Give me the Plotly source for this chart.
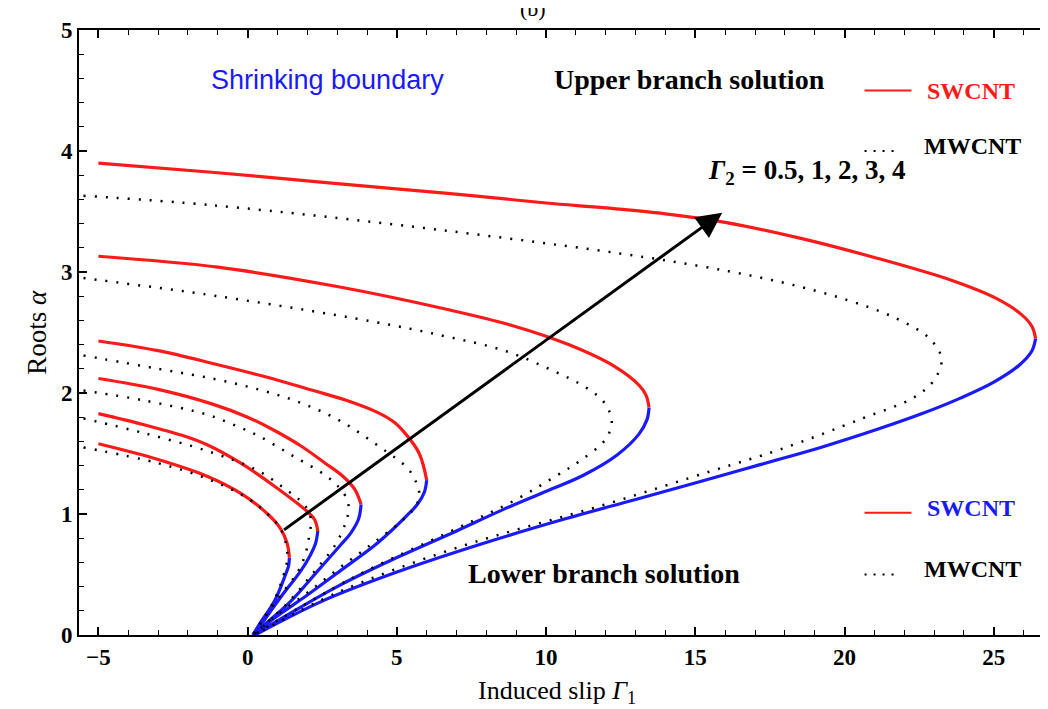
import plotly.graph_objects as go

# ---------------- data ----------------
GAMMA2_TEXT = "0.5, 1, 2, 3, 4"

# SWCNT upper branch (red): Gamma1 values and roots alpha, one list per curve
SW_UP_X = [
    [-5, -3, -1.34, -0.23, 0.67, 1.1, 1.32, 1.4],
    [-5, -3.5, -2.2, -1.34, -0.23, 0.9, 2.0, 2.25, 2.35],
    [-5, -3, -1.2, 0.0, 0.9, 1.8, 2.6, 3.2, 3.6, 3.8],
    [-5, -3, -1.1, 0.5, 2.2, 3.3, 4.35, 4.9, 5.3, 5.75, 6.0],
    [-5, -1, 3, 6.7, 8.83, 10.75, 12.29, 13.13, 13.35, 13.45],
    [-5, -1, 3, 6.7, 10, 12, 14, 16, 18.5, 21.0, 23.6, 25.1, 25.92, 26.28, 26.4],
]
SW_UP_Y = [
    [1.58, 1.45, 1.31, 1.17, 1.00, 0.88, 0.76, 0.64],
    [1.83, 1.74, 1.65, 1.57, 1.42, 1.23, 1.02, 0.95, 0.86],
    [2.12, 2.03, 1.91, 1.80, 1.69, 1.56, 1.42, 1.31, 1.20, 1.08],
    [2.43, 2.35, 2.24, 2.14, 2.02, 1.94, 1.84, 1.76, 1.66, 1.50, 1.28],
    [3.13, 3.04, 2.88, 2.69, 2.56, 2.40, 2.22, 2.06, 1.98, 1.88],
    [3.90, 3.82, 3.73, 3.65, 3.57, 3.53, 3.48, 3.41, 3.28, 3.12, 2.93, 2.78, 2.65, 2.55, 2.45],
]
# SWCNT lower branch (blue)
SW_LO_X = [
    [1.4, 1.37, 1.27, 0.9, 0.45, 0.17],
    [2.35, 2.28, 2.1, 1.78, 1.1, 0.55, 0.2],
    [3.8, 3.72, 3.45, 3.1, 2.35, 1.45, 0.55, 0.2],
    [6.0, 5.92, 5.69, 5.35, 4.85, 4.25, 3.1, 2.0, 0.9, 0.2],
    [13.45, 13.38, 13.11, 12.39, 11.25, 10.03, 8.5, 7.0, 5.0, 3.0, 0.2],
    [26.4, 26.28, 25.85, 25.0, 23.9, 22.6, 21.1, 19.2, 17.2, 15.2, 13.0, 10.5, 7.8, 5.0, 2.5, 0.25],
]
SW_LO_Y = [
    [0.64, 0.57, 0.50, 0.28, 0.11, 0.0],
    [0.86, 0.76, 0.66, 0.53, 0.31, 0.12, 0.0],
    [1.08, 0.96, 0.84, 0.74, 0.53, 0.28, 0.08, 0.0],
    [1.28, 1.18, 1.08, 0.99, 0.87, 0.74, 0.53, 0.33, 0.14, 0.0],
    [1.88, 1.78, 1.66, 1.49, 1.32, 1.19, 1.03, 0.86, 0.64, 0.40, 0.0],
    [2.45, 2.35, 2.23, 2.09, 1.96, 1.83, 1.70, 1.55, 1.41, 1.27, 1.12, 0.95, 0.75, 0.52, 0.28, 0.0],
]
# MWCNT (black dotted), whole curve upper -> lower
MW_X = [
    [-5.5, -3, -1.34, 0.0, 0.67, 1.1, 1.28, 1.33, 1.3, 1.2, 0.88, 0.45, 0.17],
    [-5.5, -3.5, -1.34, 0.33, 1.24, 1.85, 2.08, 2.12, 2.05, 1.95, 1.7, 1.05, 0.5, 0.2],
    [-5.5, -3.5, -1.34, -0.5, 0.33, 1.45, 2.6, 3.1, 3.35, 3.38, 3.3, 2.95, 2.25, 1.4, 0.55, 0.2],
    [-5.5, -3, -1.0, 0.5, 1.77, 3.1, 4.45, 5.35, 5.65, 5.75, 5.62, 5.2, 4.15, 3.0, 1.95, 0.9, 0.2],
    [-5.5, -1.0, 4.2, 6.6, 8.6, 10.27, 11.37, 11.95, 12.2, 12.0, 11.14, 10.37, 9.0, 7.0, 3.5, 0.2],
    [-5.5, -1.1, 6.7, 14.15, 17.8, 20.07, 21.7, 22.85, 23.25, 22.98, 22.3, 20.6, 17.8, 15.6, 12.0, 7.0, 3.0, 0.25],
]
MW_Y = [
    [1.55, 1.42, 1.29, 1.13, 1.00, 0.88, 0.76, 0.66, 0.58, 0.49, 0.28, 0.11, 0.0],
    [1.79, 1.67, 1.52, 1.36, 1.21, 1.09, 1.00, 0.92, 0.80, 0.68, 0.53, 0.31, 0.12, 0.0],
    [2.02, 1.94, 1.82, 1.74, 1.65, 1.49, 1.32, 1.21, 1.11, 1.03, 0.94, 0.75, 0.53, 0.28, 0.08, 0.0],
    [2.31, 2.20, 2.11, 2.02, 1.92, 1.77, 1.55, 1.38, 1.26, 1.16, 1.06, 0.95, 0.75, 0.54, 0.34, 0.15, 0.0],
    [2.95, 2.80, 2.59, 2.47, 2.35, 2.18, 2.04, 1.92, 1.77, 1.62, 1.44, 1.32, 1.12, 0.88, 0.47, 0.0],
    [3.63, 3.55, 3.34, 3.09, 2.92, 2.77, 2.62, 2.45, 2.28, 2.10, 1.96, 1.79, 1.53, 1.36, 1.08, 0.72, 0.35, 0.0],
]

X_TICKS = [-5, 0, 5, 10, 15, 20, 25]
Y_TICKS = [0, 1, 2, 3, 4, 5]

# ---------------- styling ----------------
RED = "#ff1a1a"
BLUE = "#1a1aff"
SERIF = "Liberation Serif"
SANS = "Liberation Sans"
DOT = "2px,9px"

fig = go.Figure()

for xs, ys in zip(SW_LO_X, SW_LO_Y):
    fig.add_trace(go.Scatter(x=xs, y=ys, mode="lines",
                             line=dict(color=BLUE, width=3.2, shape="spline", smoothing=1.0),
                             hoverinfo="skip", showlegend=False))
for xs, ys in zip(SW_UP_X, SW_UP_Y):
    fig.add_trace(go.Scatter(x=xs, y=ys, mode="lines",
                             line=dict(color=RED, width=3.2, shape="spline", smoothing=1.0),
                             hoverinfo="skip", showlegend=False))
for xs, ys in zip(MW_X, MW_Y):
    fig.add_trace(go.Scatter(x=xs, y=ys, mode="lines",
                             line=dict(color="black", width=2.5, dash=DOT, shape="spline", smoothing=1.0),
                             hoverinfo="skip", showlegend=False))

# legend-like keys (drawn inside the plot as in the original figure)
fig.add_shape(type="line", x0=20.67, x1=22.24, y0=4.50, y1=4.50, xref="x", yref="y",
              line=dict(color=RED, width=2))
fig.add_shape(type="line", x0=20.67, x1=21.8, y0=4.00, y1=4.00, xref="x", yref="y",
              line=dict(color="black", width=2, dash="2px,7px"))
fig.add_shape(type="line", x0=20.67, x1=22.24, y0=1.01, y1=1.01, xref="x", yref="y",
              line=dict(color=RED, width=2))
fig.add_shape(type="line", x0=20.67, x1=21.8, y0=0.50, y1=0.50, xref="x", yref="y",
              line=dict(color="black", width=2, dash="2px,7px"))


def txt(x, y, s, color="black", size=24, family=SERIF, bold=True):
    fig.add_annotation(x=x, y=y, xref="x", yref="y", text=(f"<b>{s}</b>" if bold else s),
                       showarrow=False, font=dict(family=family, size=size, color=color),
                       xanchor="center", yanchor="middle")


txt(24.25, 4.50, "SWCNT", color=RED, size=24)
txt(24.30, 4.04, "MWCNT", size=24)
txt(24.25, 1.05, "SWCNT", color=BLUE, size=24)
txt(24.30, 0.545, "MWCNT", size=24)
txt(2.68, 4.59, "Shrinking boundary", color=BLUE, size=27, family=SANS, bold=False)
txt(14.81, 4.59, "Upper branch solution", size=28)
txt(11.94, 0.51, "Lower branch solution", size=28)
txt(18.73, 3.83, "<i>Γ</i><sub>2</sub> = " + GAMMA2_TEXT, size=27)

# arrow indicating increasing Gamma2
fig.add_annotation(x=15.9, y=3.49, ax=1.17, ay=0.86, xref="x", yref="y", axref="x", ayref="y",
                   text="", showarrow=True, arrowhead=2, arrowsize=1.7, arrowwidth=3,
                   arrowcolor="black")

# axis titles and (cut-off) panel label
fig.add_annotation(x=0.491, y=-0.094, xref="paper", yref="paper", yanchor="middle",
                   text="Induced slip <i>Γ</i><sub>1</sub>", showarrow=False,
                   font=dict(family=SERIF, size=26, color="black"))
fig.add_annotation(x=-0.044, y=0.5, xref="paper", yref="paper", xanchor="center",
                   text="Roots <i>α</i>", showarrow=False, textangle=-90,
                   font=dict(family=SERIF, size=27, color="black"))
fig.add_annotation(x=0.467, y=1.036, xref="paper", yref="paper", yanchor="middle",
                   text="(b)", showarrow=False,
                   font=dict(family=SERIF, size=22, color="black"))

axis_common = dict(showline=True, linecolor="black", linewidth=2, mirror="allticks",
                   ticks="inside", tickcolor="black", tickwidth=1.5, showgrid=False,
                   zeroline=False,
                   tickfont=dict(family=SERIF, size=23, color="black", weight="bold"))

fig.update_xaxes(range=[-5.65, 26.95], tickvals=X_TICKS, ticklen=8,
                 minor=dict(dtick=1, tick0=0, ticks="inside", ticklen=5, tickcolor="black", tickwidth=1.2),
                 ticklabelstandoff=0, **axis_common)
fig.update_yaxes(range=[0, 5], tickvals=Y_TICKS, ticklen=8,
                 minor=dict(dtick=0.2, tick0=0, ticks="inside", ticklen=5, tickcolor="black", tickwidth=1.2),
                 ticklabelstandoff=0, **axis_common)

fig.update_layout(width=1048, height=709, margin=dict(l=71, r=2, t=22, b=82),
                  plot_bgcolor="white", paper_bgcolor="white", showlegend=False)

fig.write_html("out.html")
